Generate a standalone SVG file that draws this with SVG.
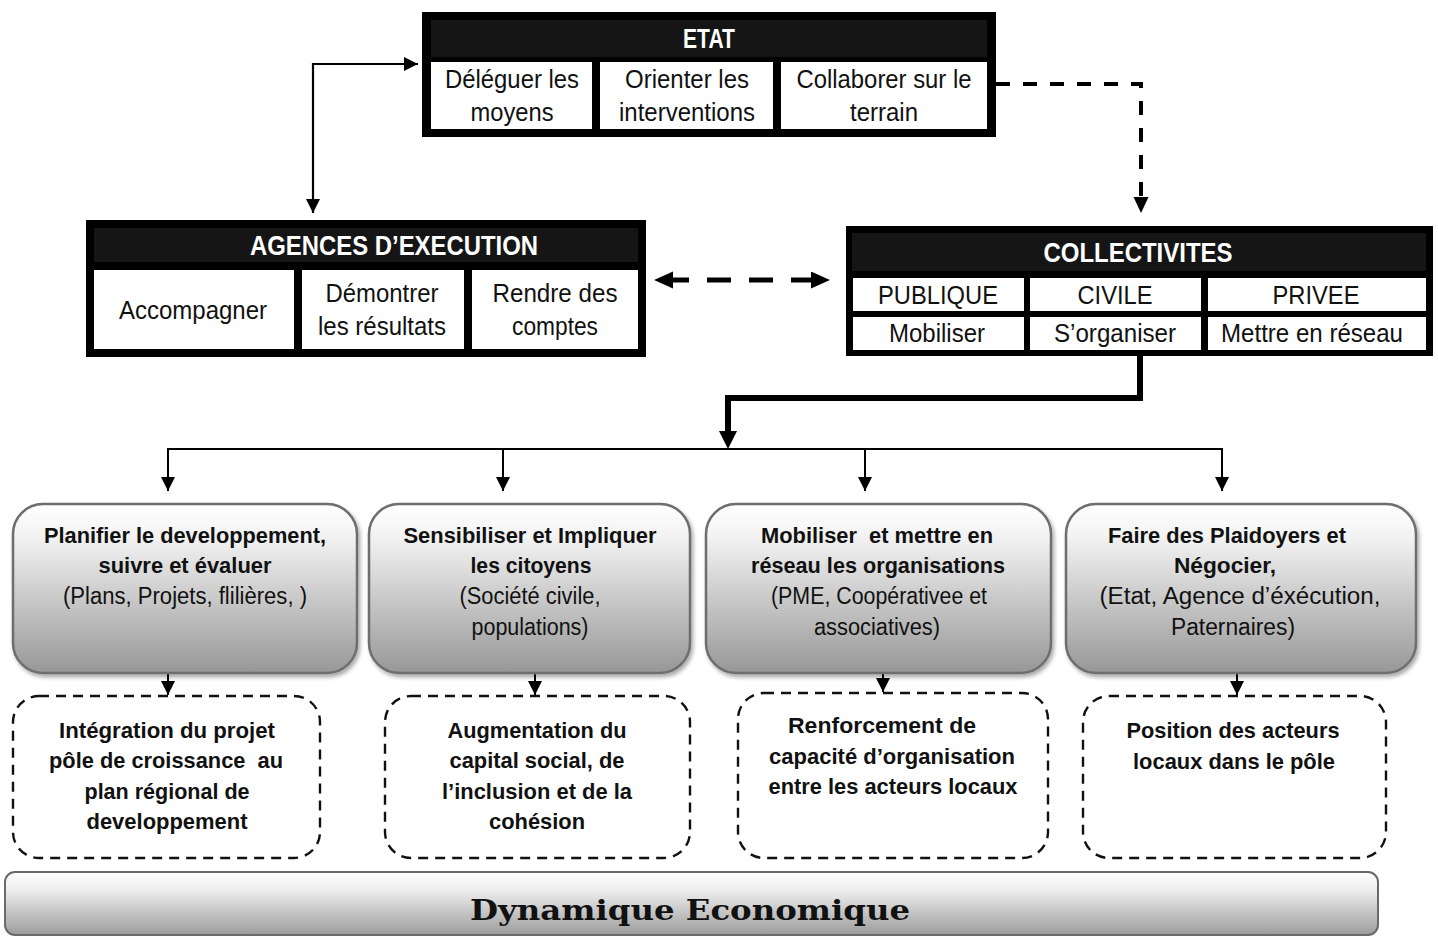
<svg xmlns="http://www.w3.org/2000/svg" width="1438" height="937" viewBox="0 0 1438 937">
  <defs>
    <style>
      .frame { fill: #000; }
      .bar { fill: #151515; }
      .cell { fill: #fff; }
      .hd { font-family: "Liberation Sans", Arial, sans-serif; font-weight: bold; font-size: 27px; fill: #fff; text-anchor: middle; }
      .ct { font-family: "Liberation Sans", Arial, sans-serif; font-size: 25px; fill: #111; text-anchor: middle; }
      .bt { font-family: "Liberation Sans", Arial, sans-serif; font-weight: bold; font-size: 22px; fill: #111; text-anchor: middle; }
      .rt { font-family: "Liberation Sans", Arial, sans-serif; font-size: 23px; fill: #111; text-anchor: middle; }
      .action { fill: url(#grayFade); stroke: #6e6e6e; stroke-width: 2.5; filter: url(#shade); }
      .result { fill: none; stroke: #111; stroke-width: 2.4; stroke-dasharray: 10 7; }
      .thin { fill: none; stroke: #000; stroke-width: 2; }
      .ttl { font-family: "DejaVu Serif", "Liberation Serif", serif; font-weight: bold; font-size: 28px; fill: #111; text-anchor: middle; }
    </style>
    <linearGradient id="grayFade" x1="0" y1="0" x2="0" y2="1">
      <stop offset="0" stop-color="#ffffff"/>
      <stop offset="0.2" stop-color="#f2f2f2"/>
      <stop offset="1" stop-color="#979797"/>
    </linearGradient>
    <linearGradient id="barFade" x1="0" y1="0" x2="0" y2="1">
      <stop offset="0" stop-color="#ffffff"/>
      <stop offset="0.3" stop-color="#ececec"/>
      <stop offset="1" stop-color="#9c9c9c"/>
    </linearGradient>
    <filter id="shade" x="-5%" y="-5%" width="115%" height="120%">
      <feGaussianBlur in="SourceAlpha" stdDeviation="2"/>
      <feOffset dx="2" dy="3" result="o"/>
      <feComponentTransfer><feFuncA type="linear" slope="0.35"/></feComponentTransfer>
      <feMerge><feMergeNode/><feMergeNode in="SourceGraphic"/></feMerge>
    </filter>
    <marker id="headThin" markerUnits="userSpaceOnUse" markerWidth="14" markerHeight="14" refX="14" refY="7" orient="auto-start-reverse">
      <path d="M0,0 L14,7 L0,14 z" fill="#000"/>
    </marker>
    <marker id="headDash" markerUnits="userSpaceOnUse" markerWidth="16" markerHeight="16" refX="0" refY="7.5" orient="auto">
      <path d="M0,0 L16,7.5 L0,15 z" fill="#000"/>
    </marker>
    <marker id="headWide" markerUnits="userSpaceOnUse" markerWidth="20" markerHeight="18" refX="0" refY="8.5" orient="auto-start-reverse">
      <path d="M0,0 L19,8.5 L0,17 z" fill="#000"/>
    </marker>
    <marker id="headBold" markerUnits="userSpaceOnUse" markerWidth="19" markerHeight="19" refX="0" refY="9" orient="auto">
      <path d="M0,0 L18,9 L0,18 z" fill="#000"/>
    </marker>
  </defs>

  <rect width="1438" height="937" fill="#fff"/>

  <!-- Connectors -->
  <g id="connectors">
    <path d="M418 64 H313 V213" fill="none" stroke="#000" stroke-width="2.2" marker-start="url(#headThin)" marker-end="url(#headThin)"/>
    <path d="M996 84 H1141 V197" fill="none" stroke="#000" stroke-width="4" stroke-dasharray="14 13" marker-end="url(#headDash)"/>
    <path d="M673 280 H811" fill="none" stroke="#000" stroke-width="5" stroke-dasharray="24 18" stroke-dashoffset="8" marker-start="url(#headWide)" marker-end="url(#headWide)"/>
    <path d="M1140 356 V398 H728 V431" fill="none" stroke="#000" stroke-width="6" stroke-linejoin="miter" marker-end="url(#headBold)"/>
    <path class="thin" d="M167 449 H1223"/>
    <path class="thin" d="M168 449 V491" marker-end="url(#headThin)"/>
    <path class="thin" d="M503 449 V491" marker-end="url(#headThin)"/>
    <path class="thin" d="M865 449 V491" marker-end="url(#headThin)"/>
    <path class="thin" d="M1222 449 V491" marker-end="url(#headThin)"/>
    <path class="thin" d="M168 673 V695" marker-end="url(#headThin)"/>
    <path class="thin" d="M535 673 V695" marker-end="url(#headThin)"/>
    <path class="thin" d="M883 673 V692" marker-end="url(#headThin)"/>
    <path class="thin" d="M1237 673 V695" marker-end="url(#headThin)"/>
  </g>

  <!-- ETAT -->
  <g id="etat">
    <rect class="frame" x="422" y="12" width="574" height="125"/>
    <rect class="bar" x="431" y="20" width="556" height="37"/>
    <text class="hd" x="709" y="48" textLength="52" lengthAdjust="spacingAndGlyphs">ETAT</text>
    <rect class="cell" x="431" y="62" width="161" height="67"/>
    <rect class="cell" x="600" y="62" width="173" height="67"/>
    <rect class="cell" x="781" y="62" width="206" height="67"/>
    <text class="ct" x="512" y="88" textLength="134" lengthAdjust="spacingAndGlyphs">Déléguer les</text>
    <text class="ct" x="512" y="121" textLength="83" lengthAdjust="spacingAndGlyphs">moyens</text>
    <text class="ct" x="687" y="88" textLength="124" lengthAdjust="spacingAndGlyphs">Orienter les</text>
    <text class="ct" x="687" y="121" textLength="136" lengthAdjust="spacingAndGlyphs">interventions</text>
    <text class="ct" x="884" y="88" textLength="175" lengthAdjust="spacingAndGlyphs">Collaborer sur le</text>
    <text class="ct" x="884" y="121" textLength="68" lengthAdjust="spacingAndGlyphs">terrain</text>
  </g>

  <!-- AGENCES D'EXECUTION -->
  <g id="agences">
    <rect class="frame" x="86" y="220" width="560" height="137"/>
    <rect class="bar" x="94" y="228" width="544" height="34"/>
    <text class="hd" x="394" y="255" textLength="288" lengthAdjust="spacingAndGlyphs">AGENCES D’EXECUTION</text>
    <rect class="cell" x="94" y="270" width="200" height="79"/>
    <rect class="cell" x="302" y="270" width="162" height="79"/>
    <rect class="cell" x="472" y="270" width="166" height="79"/>
    <text class="ct" x="193" y="319" textLength="148" lengthAdjust="spacingAndGlyphs">Accompagner</text>
    <text class="ct" x="382" y="302" textLength="113" lengthAdjust="spacingAndGlyphs">Démontrer</text>
    <text class="ct" x="382" y="335" textLength="128" lengthAdjust="spacingAndGlyphs">les résultats</text>
    <text class="ct" x="555" y="302" textLength="125" lengthAdjust="spacingAndGlyphs">Rendre des</text>
    <text class="ct" x="555" y="335" textLength="86" lengthAdjust="spacingAndGlyphs">comptes</text>
  </g>

  <!-- COLLECTIVITES -->
  <g id="collectivites">
    <rect class="frame" x="846" y="226" width="587" height="130"/>
    <rect class="bar" x="852" y="233" width="574" height="38"/>
    <text class="hd" x="1138" y="262" textLength="189" lengthAdjust="spacingAndGlyphs">COLLECTIVITES</text>
    <rect class="cell" x="853" y="278" width="171" height="33"/>
    <rect class="cell" x="1030" y="278" width="171" height="33"/>
    <rect class="cell" x="1208" y="278" width="218" height="33"/>
    <rect class="cell" x="853" y="317" width="171" height="33"/>
    <rect class="cell" x="1030" y="317" width="171" height="33"/>
    <rect class="cell" x="1208" y="317" width="218" height="33"/>
    <text class="ct" x="938" y="304" textLength="120" lengthAdjust="spacingAndGlyphs">PUBLIQUE</text>
    <text class="ct" x="1115" y="304" textLength="75" lengthAdjust="spacingAndGlyphs">CIVILE</text>
    <text class="ct" x="1316" y="304" textLength="87" lengthAdjust="spacingAndGlyphs">PRIVEE</text>
    <text class="ct" x="937" y="342" textLength="96" lengthAdjust="spacingAndGlyphs">Mobiliser</text>
    <text class="ct" x="1115" y="342" textLength="122" lengthAdjust="spacingAndGlyphs">S’organiser</text>
    <text class="ct" x="1312" y="342" textLength="182" lengthAdjust="spacingAndGlyphs">Mettre en réseau</text>
  </g>

  <!-- Action boxes -->
  <g id="planifier">
    <rect class="action" x="13" y="504" width="344" height="169" rx="30"/>
    <text class="bt" x="185" y="543" textLength="282" lengthAdjust="spacingAndGlyphs">Planifier le developpement,</text>
    <text class="bt" x="185" y="573" textLength="173" lengthAdjust="spacingAndGlyphs">suivre et évaluer</text>
    <text class="rt" x="185" y="604" textLength="244" lengthAdjust="spacingAndGlyphs">(Plans, Projets, flilières, )</text>
  </g>
  <g id="sensibiliser">
    <rect class="action" x="369" y="504" width="321" height="169" rx="30"/>
    <text class="bt" x="530" y="543" textLength="253" lengthAdjust="spacingAndGlyphs">Sensibiliser et Impliquer</text>
    <text class="bt" x="531" y="573" textLength="121" lengthAdjust="spacingAndGlyphs">les citoyens</text>
    <text class="rt" x="530" y="604" textLength="141" lengthAdjust="spacingAndGlyphs">(Société civile,</text>
    <text class="rt" x="530" y="635" textLength="117" lengthAdjust="spacingAndGlyphs">populations)</text>
  </g>
  <g id="mobiliser">
    <rect class="action" x="706" y="504" width="345" height="169" rx="30"/>
    <text class="bt" x="877" y="543" textLength="232" lengthAdjust="spacingAndGlyphs" xml:space="preserve">Mobiliser  et mettre en</text>
    <text class="bt" x="878" y="573" textLength="254" lengthAdjust="spacingAndGlyphs">réseau les organisations</text>
    <text class="rt" x="879" y="604" textLength="216" lengthAdjust="spacingAndGlyphs">(PME, Coopérativee et</text>
    <text class="rt" x="877" y="635" textLength="126" lengthAdjust="spacingAndGlyphs">associatives)</text>
  </g>
  <g id="plaidoyers">
    <rect class="action" x="1066" y="504" width="350" height="169" rx="30"/>
    <text class="bt" x="1227" y="543" textLength="238" lengthAdjust="spacingAndGlyphs">Faire des Plaidoyers et</text>
    <text class="bt" x="1225" y="573" textLength="102" lengthAdjust="spacingAndGlyphs">Négocier,</text>
    <text class="rt" x="1240" y="604" textLength="281" lengthAdjust="spacingAndGlyphs">(Etat, Agence d’éxécution,</text>
    <text class="rt" x="1233" y="635" textLength="124" lengthAdjust="spacingAndGlyphs">Paternaires)</text>
  </g>

  <!-- Result boxes -->
  <g id="integration">
    <rect class="result" x="13" y="696" width="307" height="162" rx="26"/>
    <text class="bt" x="167" y="738" textLength="216" lengthAdjust="spacingAndGlyphs">Intégration du projet</text>
    <text class="bt" x="166" y="768" textLength="234" lengthAdjust="spacingAndGlyphs" xml:space="preserve">pôle de croissance  au</text>
    <text class="bt" x="167" y="799" textLength="165" lengthAdjust="spacingAndGlyphs">plan régional de</text>
    <text class="bt" x="167" y="829" textLength="161" lengthAdjust="spacingAndGlyphs">developpement</text>
  </g>
  <g id="capital">
    <rect class="result" x="385" y="696" width="305" height="162" rx="26"/>
    <text class="bt" x="537" y="738" textLength="179" lengthAdjust="spacingAndGlyphs">Augmentation du</text>
    <text class="bt" x="537" y="768" textLength="175" lengthAdjust="spacingAndGlyphs">capital social, de</text>
    <text class="bt" x="537" y="799" textLength="190" lengthAdjust="spacingAndGlyphs">l’inclusion et de la</text>
    <text class="bt" x="537" y="829" textLength="96" lengthAdjust="spacingAndGlyphs">cohésion</text>
  </g>
  <g id="renforcement">
    <rect class="result" x="738" y="693" width="310" height="165" rx="26"/>
    <text class="bt" x="882" y="733" textLength="188" lengthAdjust="spacingAndGlyphs">Renforcement de</text>
    <text class="bt" x="892" y="764" textLength="246" lengthAdjust="spacingAndGlyphs">capacité d’organisation</text>
    <text class="bt" x="893" y="794" textLength="249" lengthAdjust="spacingAndGlyphs">entre les acteurs locaux</text>
  </g>
  <g id="position">
    <rect class="result" x="1083" y="696" width="303" height="162" rx="26"/>
    <text class="bt" x="1233" y="738" textLength="213" lengthAdjust="spacingAndGlyphs">Position des acteurs</text>
    <text class="bt" x="1234" y="769" textLength="202" lengthAdjust="spacingAndGlyphs">locaux dans le pôle</text>
  </g>

  <!-- Bottom band -->
  <g id="dynamique">
    <rect x="5" y="872" width="1373" height="63" rx="10" fill="url(#barFade)" stroke="#6a6a6a" stroke-width="2"/>
    <text class="ttl" x="690" y="920" textLength="440" lengthAdjust="spacingAndGlyphs">Dynamique Economique</text>
  </g>
</svg>
